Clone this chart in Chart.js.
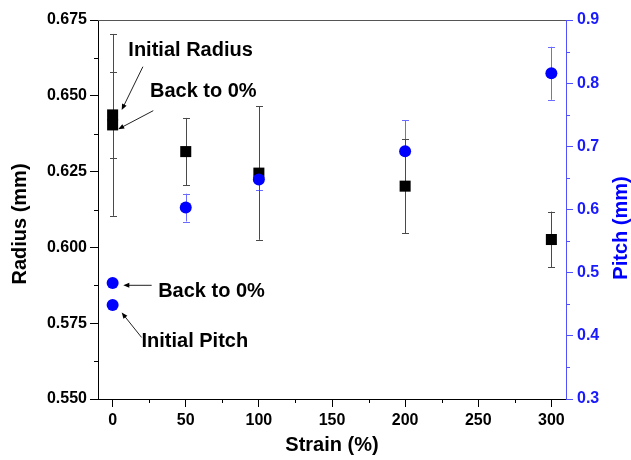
<!DOCTYPE html>
<html><head><meta charset="utf-8">
<script src="https://cdn.jsdelivr.net/npm/chart.js@4.4.1/dist/chart.umd.min.js"></script>
<style>html,body{margin:0;padding:0;background:#fff}</style>
</head><body>
<canvas id="c" width="631" height="460"></canvas>
<script>
// ---- data ----
const strainRadius = [0, 0, 50, 100, 200, 300];
const radius       = [0.6437, 0.6404, 0.6316, 0.6245, 0.6202, 0.6026];
const radiusErr    = [0.0142, 0.0300, 0.0111, 0.0220, 0.0155, 0.0092];
const strainPitch  = [0, 0, 50, 100, 200, 300];
const pitch        = [0.4487, 0.4836, 0.6030, 0.6476, 0.6924, 0.8156];
const pitchErr     = [0, 0, 0.022, 0.016, 0.049, 0.042];
const xTicks       = [0, 50, 100, 150, 200, 250, 300];
const radiusTicks  = [0.550, 0.575, 0.600, 0.625, 0.650, 0.675];
const pitchTicks   = [0.3, 0.4, 0.5, 0.6, 0.7, 0.8, 0.9];
const labels       = ['Initial Radius', 'Back to 0%', 'Back to 0%', 'Initial Pitch'];
const labelPos     = [[53.3, 0.6649], [62, 0.6514], [67.6, 0.5854], [56.2, 0.5691]];
const arrowFrom    = [[20.7, 0.6596], [27.8, 0.6451], [26.7, 0.5875], [19.8, 0.5703]];
const arrowTo      = [[6.2, 0.6453], [3.8, 0.6390], [7.3, 0.5875], [6.2, 0.5785]];

const FONT = '"Liberation Sans", Arial, sans-serif';
const BLUE = '#0000ff';

function minorVals(ticks, min, max) {
  const step = (ticks[1] - ticks[0]) / 2;
  const out = [];
  for (let i = 0; i < ticks.length - 1; i++) out.push(ticks[i] + step);
  if (ticks[ticks.length - 1] + step <= max) out.push(ticks[ticks.length - 1] + step);
  if (ticks[0] - step >= min) out.push(ticks[0] - step);
  return out;
}

const errorBars = {
  id: 'errorBars',
  beforeDatasetsDraw(chart) {
    const ctx = chart.ctx, xs = chart.scales.x;
    const draw = (xv, yv, ev, sc, color) => {
      ctx.strokeStyle = color; ctx.lineWidth = 1;
      for (let i = 0; i < xv.length; i++) {
        if (!ev[i]) continue;
        const px = Math.round(xs.getPixelForValue(xv[i])) + 0.5;
        const y1 = sc.getPixelForValue(yv[i] + ev[i]);
        const y2 = sc.getPixelForValue(yv[i] - ev[i]);
        ctx.beginPath();
        ctx.moveTo(px, y1); ctx.lineTo(px, y2);
        ctx.moveTo(px - 3.5, Math.round(y1) + 0.5); ctx.lineTo(px + 3.5, Math.round(y1) + 0.5);
        ctx.moveTo(px - 3.5, Math.round(y2) + 0.5); ctx.lineTo(px + 3.5, Math.round(y2) + 0.5);
        ctx.stroke();
      }
    };
    ctx.save();
    draw(strainPitch, pitch, pitchErr, chart.scales.y1, '#6b6bff');
    draw(strainRadius, radius, radiusErr, chart.scales.y, '#4a4a4a');
    ctx.restore();
  }
};

const decorations = {
  id: 'decorations',
  afterDraw(chart) {
    const ctx = chart.ctx, a = chart.chartArea;
    const xs = chart.scales.x, yl = chart.scales.y, yr = chart.scales.y1;
    ctx.save();
    // top frame line
    ctx.strokeStyle = '#555'; ctx.lineWidth = 1;
    ctx.beginPath(); ctx.moveTo(a.left, a.top + 0.5); ctx.lineTo(a.right, a.top + 0.5); ctx.stroke();
    // minor ticks
    ctx.strokeStyle = '#000';
    ctx.beginPath();
    minorVals(xTicks, xs.min, xs.max).forEach(v => {
      const p = Math.round(xs.getPixelForValue(v)) + 0.5;
      ctx.moveTo(p, a.bottom); ctx.lineTo(p, a.bottom + 4);
    });
    minorVals(radiusTicks, yl.min, yl.max).forEach(v => {
      const p = Math.round(yl.getPixelForValue(v)) + 0.5;
      ctx.moveTo(a.left, p); ctx.lineTo(a.left - 4, p);
    });
    ctx.stroke();
    ctx.strokeStyle = '#5050ff';
    ctx.beginPath();
    minorVals(pitchTicks, yr.min, yr.max).forEach(v => {
      const p = Math.round(yr.getPixelForValue(v)) + 0.5;
      ctx.moveTo(a.right, p); ctx.lineTo(a.right + 4, p);
    });
    ctx.stroke();
    // axis titles (vertical)
    ctx.font = 'bold 20px ' + FONT;
    ctx.textAlign = 'center'; ctx.textBaseline = 'middle';
    ctx.fillStyle = '#000';
    ctx.save(); ctx.translate(20, 224); ctx.rotate(-Math.PI / 2); ctx.fillText('Radius (mm)', 0, 0); ctx.restore();
    ctx.fillStyle = BLUE;
    ctx.save(); ctx.translate(621, 228); ctx.rotate(-Math.PI / 2); ctx.fillText('Pitch (mm)', 0, 0); ctx.restore();
    // annotations
    ctx.fillStyle = '#000';
    labels.forEach((t, i) => {
      ctx.fillText(t, xs.getPixelForValue(labelPos[i][0]), yl.getPixelForValue(labelPos[i][1]));
      const x1 = xs.getPixelForValue(arrowFrom[i][0]), y1 = yl.getPixelForValue(arrowFrom[i][1]);
      const x2 = xs.getPixelForValue(arrowTo[i][0]), y2 = yl.getPixelForValue(arrowTo[i][1]);
      const ang = Math.atan2(y2 - y1, x2 - x1);
      ctx.strokeStyle = '#222'; ctx.lineWidth = 1;
      ctx.beginPath(); ctx.moveTo(x1, y1);
      ctx.lineTo(x2 - 4 * Math.cos(ang), y2 - 4 * Math.sin(ang)); ctx.stroke();
      ctx.beginPath();
      ctx.moveTo(x2, y2);
      ctx.lineTo(x2 - 6 * Math.cos(ang) + 2.5 * Math.sin(ang), y2 - 6 * Math.sin(ang) - 2.5 * Math.cos(ang));
      ctx.lineTo(x2 - 6 * Math.cos(ang) - 2.5 * Math.sin(ang), y2 - 6 * Math.sin(ang) + 2.5 * Math.cos(ang));
      ctx.closePath(); ctx.fill();
    });
    ctx.restore();
  }
};

const tickFont = { family: FONT, size: 16, weight: 'bold' };

new Chart(document.getElementById('c'), {
  type: 'scatter',
  data: {
    datasets: [
      {
        label: 'Pitch',
        data: strainPitch.map((x, i) => ({ x, y: pitch[i] })),
        yAxisID: 'y1',
        pointStyle: 'circle', pointRadius: 6, pointBorderWidth: 0,
        backgroundColor: BLUE, borderColor: BLUE
      },
      {
        label: 'Radius',
        data: strainRadius.map((x, i) => ({ x, y: radius[i] })),
        yAxisID: 'y',
        pointStyle: 'rect', pointRadius: 7.8, pointBorderWidth: 0,
        backgroundColor: '#000', borderColor: '#000'
      }
    ]
  },
  options: {
    responsive: false,
    animation: false,
    devicePixelRatio: 1,
    layout: { padding: { top: 20, left: 0, right: 0, bottom: 0 } },
    plugins: { legend: { display: false }, tooltip: { enabled: false } },
    scales: {
      x: {
        type: 'linear', min: -10, max: 310,
        afterBuildTicks: s => { s.ticks = xTicks.map(v => ({ value: v })); },
        afterFit: s => { s.height = 61; },
        ticks: { font: tickFont, color: '#000', padding: 4, maxRotation: 0, callback: v => String(v) },
        grid: { drawOnChartArea: false, drawTicks: true, tickLength: 8, color: '#000' },
        border: { color: '#000', width: 1 },
        title: { display: true, text: 'Strain (%)', color: '#000',
                 font: { family: FONT, size: 20, weight: 'bold', lineHeight: 1 },
                 padding: { top: 0, bottom: 5 } }
      },
      y: {
        type: 'linear', position: 'left', min: 0.55, max: 0.675,
        afterBuildTicks: s => { s.ticks = radiusTicks.map(v => ({ value: v })); },
        afterFit: s => { s.width = 98; },
        ticks: { font: tickFont, color: '#000', padding: 3, callback: v => v.toFixed(3) },
        grid: { drawOnChartArea: false, drawTicks: true, tickLength: 8, color: '#000' },
        border: { color: '#000', width: 1 }
      },
      y1: {
        type: 'linear', position: 'right', min: 0.3, max: 0.9,
        afterBuildTicks: s => { s.ticks = pitchTicks.map(v => ({ value: v })); },
        afterFit: s => { s.width = 65; },
        ticks: { font: tickFont, color: '#1a1aff', padding: 4, callback: v => v.toFixed(1) },
        grid: { drawOnChartArea: false, drawTicks: true, tickLength: 7, color: '#5050ff' },
        border: { color: '#5050ff', width: 1 }
      }
    }
  },
  plugins: [errorBars, decorations]
});
</script>
</body></html>
